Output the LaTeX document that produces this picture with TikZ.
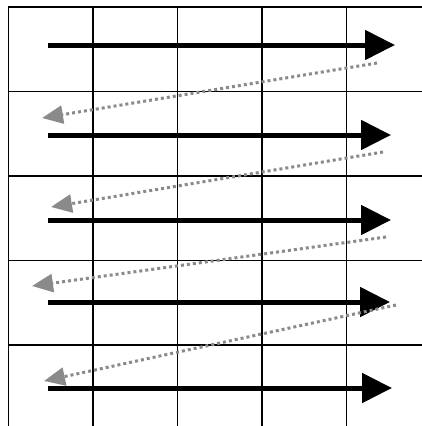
\documentclass[tikz,border=0pt]{standalone}
\usetikzlibrary{arrows.meta}
\definecolor{trail}{RGB}{138,138,138}
\begin{document}
\begin{tikzpicture}[x=1pt,y=-1pt,
  gridline/.style={line width=1.4pt,black},
  scanline/.style={black,line width=5pt,-{Triangle[length=30pt,width=29pt]}},
  returnline/.style={trail,line width=3pt,dash pattern=on 3pt off 3pt,-{Triangle[length=21pt,width=18pt]}}]
\useasboundingbox (0,0) rectangle (422,426);
% grid of cells, cut off at the right and bottom edges
\begin{scope}
  \clip (0,0) rectangle (422,426);
  \foreach \k in {0,...,4} {
    \draw[gridline] ({8.5+84.5*\k},6.3) -- ({8.5+84.5*\k},430);
    \draw[gridline] (7.8,{7+84.5*\k}) -- (430,{7+84.5*\k});
  }
\end{scope}
% start and end points of the scan lines
\coordinate (s1) at (48,45);  \coordinate (e1) at (395,45);
\coordinate (s2) at (48,135); \coordinate (e2) at (391,135);
\coordinate (s3) at (48,220); \coordinate (e3) at (391,220);
\coordinate (s4) at (48,302); \coordinate (e4) at (390,302);
\coordinate (s5) at (48,388); \coordinate (e5) at (392,388);
% start and end points of the return traces
\coordinate (r1) at (377,63);  \coordinate (t1) at (42,118);
\coordinate (r2) at (383,152); \coordinate (t2) at (51,207);
\coordinate (r3) at (386,237); \coordinate (t3) at (32,286);
\coordinate (r4) at (396,305); \coordinate (t4) at (44,381);
% scan lines
\foreach \i in {1,...,5} \draw[scanline] (s\i) -- (e\i);
% return traces
\foreach \i in {1,...,4} \draw[returnline] (r\i) -- (t\i);
\end{tikzpicture}
\end{document}
